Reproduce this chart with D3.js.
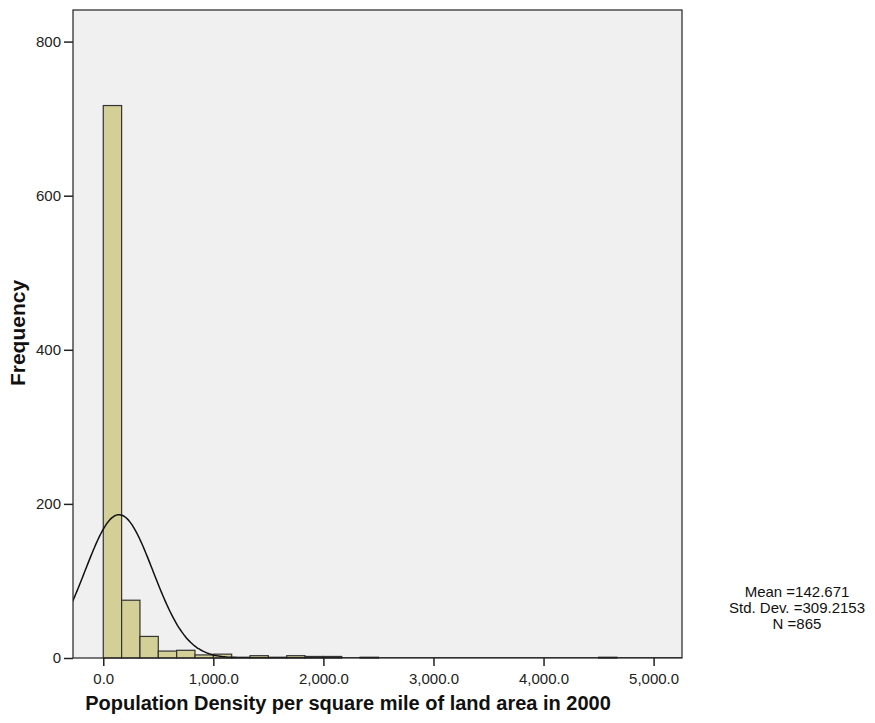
<!DOCTYPE html>
<html>
<head>
<meta charset="utf-8">
<script src="https://cdn.jsdelivr.net/npm/d3@7"></script>
<style>
	body { margin: 0; background: #fff; }
	text { font-family: 'Liberation Sans', Arial, sans-serif; }
</style>
</head>
<body>
<div id="chart"></div>
<script>
// histogram bins: width 1000/6, starting at 0
const binWidth = 1000 / 6;
const binCounts = [717, 75, 28, 9, 10, 4, 5, 1, 3, 1, 3, 2, 2, 0, 1, 0, 0, 0, 0, 0, 0, 0, 0, 0, 0, 0, 0, 1];
const yTicks = [0, 200, 400, 600, 800];
const xTicks = [0, 1000, 2000, 3000, 4000, 5000];
const stats = { mean: 142.671, sd: 309.2153, n: 865 };
const legendLines = ['Mean =142.671', 'Std. Dev. =309.2153', 'N =865'];

const margin = { top: 10, left: 73, right: 193, bottom: 65 };
const svgWidth = 875;
const svgHeight = 723;
const width = svgWidth - margin.left - margin.right;
const height = svgHeight - margin.top - margin.bottom;

const svg = d3.select('#chart').append('svg')
	.attr('width', svgWidth)
	.attr('height', svgHeight);

const g = svg.append('g').attr('transform', 'translate(' + margin.left + ',' + margin.top + ')');

const x = d3.scaleLinear().domain([-275, 5258]).range([0, width]);
const y = d3.scaleLinear().domain([0, 841]).range([height, 0]);

g.append('clipPath').attr('id', 'clip').append('rect').attr('width', width).attr('height', height);

// plot background
g.append('rect').attr('width', width).attr('height', height).attr('fill', '#f0f0f0');

const bins = binCounts.map((c, i) => ({ x0: i * binWidth, x1: (i + 1) * binWidth, count: c }));

g.selectAll('.bar')
	.data(bins.filter((d) => d.count > 0))
	.enter()
	.append('rect')
	.attr('class', 'bar')
	.attr('x', (d) => x(d.x0))
	.attr('width', (d) => x(d.x1) - x(d.x0))
	.attr('y', (d) => y(d.count))
	.attr('height', (d) => y(0) - y(d.count))
	.attr('fill', '#d3cf97')
	.attr('stroke', '#333')
	.attr('stroke-width', 1.2);

// normal curve scaled to counts
const curvePts = d3.range(-300, 5300, 10).map((v) => {
	const z = (v - stats.mean) / stats.sd;
	return [v, stats.n * binWidth / (stats.sd * Math.sqrt(2 * Math.PI)) * Math.exp(-0.5 * z * z)];
});
const line = d3.line().x((d) => x(d[0])).y((d) => y(d[1])).curve(d3.curveBasis);
g.append('path')
	.datum(curvePts)
	.attr('clip-path', 'url(#clip)')
	.attr('d', line)
	.attr('fill', 'none')
	.attr('stroke', '#111')
	.attr('stroke-width', 1.5);

// frame
g.append('rect').attr('width', width).attr('height', height)
	.attr('fill', 'none').attr('stroke', '#222').attr('stroke-width', 1.2);

const fmt = d3.format(',.1f');
const xAxis = d3.axisBottom(x).tickValues(xTicks).tickSize(8).tickPadding(7).tickFormat(fmt);
const yAxis = d3.axisLeft(y).tickValues(yTicks).tickSize(9).tickPadding(3).tickFormat(d3.format('d'));

const xg = g.append('g').attr('transform', 'translate(0,' + height + ')').call(xAxis);
const yg = g.append('g').call(yAxis);
[xg, yg].forEach((a) => {
	a.select('.domain').remove();
	a.selectAll('line').attr('stroke', '#222').attr('stroke-width', 1.5);
	a.selectAll('text').attr('fill', '#222').style('font-size', '15px').style('font-family', "'Liberation Sans', Arial, sans-serif");
});

// axis titles
g.append('text')
	.attr('transform', 'rotate(-90)')
	.attr('x', -323)
	.attr('y', -48)
	.style('text-anchor', 'middle')
	.style('font-weight', 'bold')
	.style('font-size', '21px')
	.attr('fill', '#111')
	.text('Frequency');

g.append('text')
	.attr('x', 348 - margin.left)
	.attr('y', 710 - margin.top)
	.style('text-anchor', 'middle')
	.style('font-weight', 'bold')
	.style('font-size', '20px')
	.attr('fill', '#111')
	.text('Population Density per square mile of land area in 2000');

// stats legend
svg.selectAll('.legend')
	.data(legendLines)
	.enter()
	.append('text')
	.attr('class', 'legend')
	.attr('x', 797)
	.attr('y', (d, i) => 597 + i * 16)
	.style('text-anchor', 'middle')
	.style('font-size', '15px')
	.attr('fill', '#111')
	.text((d) => d);
</script>
</body>
</html>
